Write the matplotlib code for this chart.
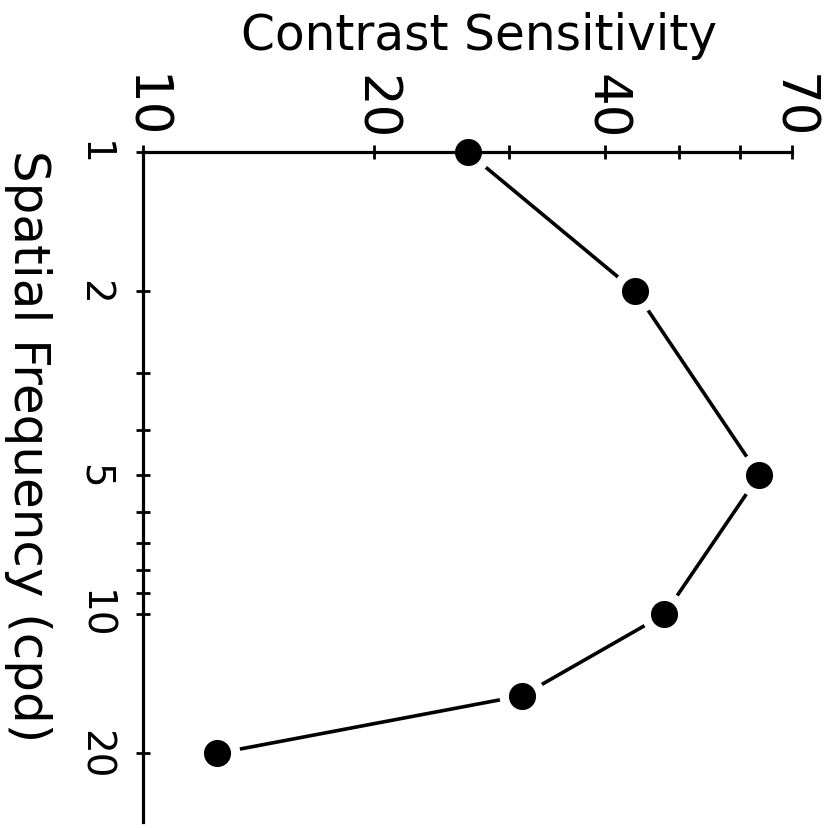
import matplotlib
matplotlib.use("Agg")
import matplotlib.pyplot as plt
from matplotlib.ticker import FixedLocator, FixedFormatter, NullFormatter

plt.rcParams['font.family'] = ['DejaVu Sans']

# Contrast sensitivity function
spatial_freq = [1, 2, 5, 10, 15, 20]          # cycles per degree
sensitivity = [26.5, 43.8, 63.5, 47.8, 31.2, 12.5]

sens_major = [10, 20, 40, 70]
sens_minor = [30, 50, 60]
freq_major = [1, 2, 5, 10, 20]
freq_minor = [3, 4, 6, 7, 8, 9]

W, H = 831, 829
fig = plt.figure(figsize=(W / 100, H / 100), dpi=100)
ax = fig.add_axes([142.7 / W, 1 - 823.3 / H, (791.7 - 142.7) / W, (823.3 - 153.3) / H])

ax.set_xscale('log')
ax.set_yscale('log')
ax.set_xlim(10, 70)
ax.set_ylim(28.2, 1)

# connecting line, with white halos so segments stop short of the dots
ax.plot(sensitivity, spatial_freq, '-', color='black', lw=2.6, zorder=2)
ax.plot(sensitivity, spatial_freq, 'o', color='white', ms=33, mew=0, zorder=2.1,
        clip_on=False)
ax.plot(sensitivity, spatial_freq, 'o', color='black', ms=19.5, mew=0, zorder=3,
        clip_on=False)

for side in ('right', 'bottom'):
    ax.spines[side].set_visible(False)
for side in ('top', 'left'):
    ax.spines[side].set_linewidth(2.3)

ax.xaxis.set_major_locator(FixedLocator(sens_major))
ax.xaxis.set_major_formatter(FixedFormatter([str(v) for v in sens_major]))
ax.xaxis.set_minor_locator(FixedLocator(sens_minor))
ax.xaxis.set_minor_formatter(NullFormatter())
ax.yaxis.set_major_locator(FixedLocator(freq_major))
ax.yaxis.set_major_formatter(FixedFormatter([str(v) for v in freq_major]))
ax.yaxis.set_minor_locator(FixedLocator(freq_minor))
ax.yaxis.set_minor_formatter(NullFormatter())

ax.xaxis.set_ticks_position('top')
ax.tick_params(axis='x', which='both', direction='inout', length=9.5, width=2,
               top=True, bottom=False, labeltop=True, labelbottom=False)
ax.tick_params(axis='x', which='major', labelsize=37, pad=5, labelrotation=-90)
ax.tick_params(axis='y', which='both', direction='inout', length=10.5, width=2,
               left=True, right=False)
ax.tick_params(axis='y', which='major', labelsize=28, pad=16, labelrotation=-90)
for lab in ax.get_yticklabels():
    lab.set_verticalalignment('center')

fig.text(479 / W, 1 - 12 / H, 'Contrast Sensitivity', fontsize=35,
         ha='center', va='top')
fig.text(28 / W, 1 - 150 / H, 'Spatial Frequency (cpd)', fontsize=36,
         rotation=-90, ha='center', va='top')

fig.savefig('out.png', dpi=100, facecolor='white')
